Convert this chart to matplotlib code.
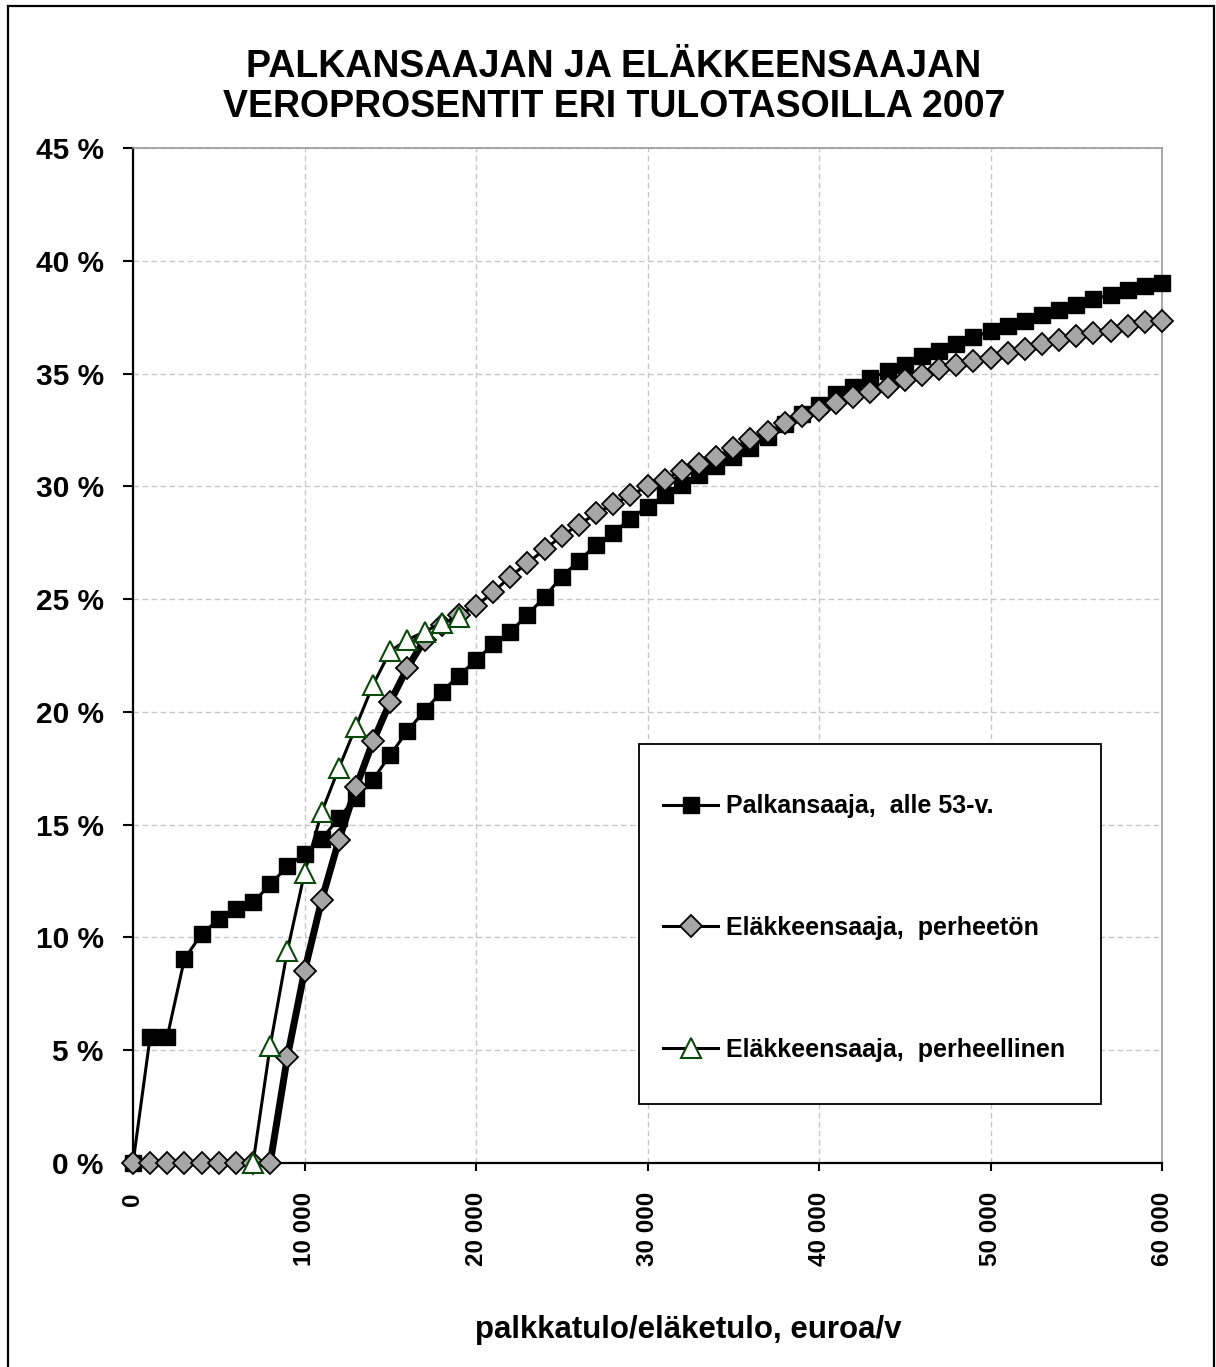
import numpy as np
import matplotlib
matplotlib.use("Agg")
import matplotlib.pyplot as plt
from matplotlib.patches import Rectangle
from matplotlib.ticker import FuncFormatter, MultipleLocator

plt.rcParams['font.family'] = ['Liberation Sans', 'DejaVu Sans']
plt.rcParams['font.weight'] = 'bold'

# income, euro/year
income = np.arange(0, 61000, 1000)
income_fam = np.arange(7000, 20000, 1000)

# tax rate, %
palkansaaja = [0, 5.6, 5.6, 9.05, 10.15, 10.8, 11.25, 11.55, 12.35, 13.15,
               13.7, 14.35, 15.3, 16.2, 17.0, 18.1, 19.15, 20.05, 20.9, 21.6,
               22.3, 23.0, 23.55, 24.3, 25.1, 26.0, 26.7, 27.4, 27.95, 28.55,
               29.1, 29.6, 30.05, 30.5, 30.9, 31.3, 31.7, 32.2, 32.75, 33.2,
               33.6, 34.1, 34.4, 34.8, 35.1, 35.4, 35.8, 36.0, 36.3, 36.6,
               36.9, 37.1, 37.35, 37.6, 37.8, 38.05, 38.3, 38.5, 38.7, 38.9,
               39.0]
perheeton = [0, 0, 0, 0, 0, 0, 0, 0, 0, 4.7,
             8.5, 11.65, 14.3, 16.65, 18.7, 20.45, 21.95, 23.2, 23.85, 24.3,
             24.7, 25.3, 26.0, 26.6, 27.2, 27.8, 28.3, 28.8, 29.2, 29.6,
             30.0, 30.3, 30.7, 31.0, 31.3, 31.7, 32.1, 32.4, 32.8, 33.1,
             33.4, 33.7, 33.95, 34.2, 34.4, 34.7, 34.95, 35.2, 35.4, 35.55,
             35.7, 35.9, 36.1, 36.3, 36.5, 36.65, 36.8, 36.9, 37.1, 37.3,
             37.35]
perheellinen = [0, 5.2, 9.4, 12.85, 15.55, 17.5, 19.35, 21.2, 22.7, 23.2,
                23.55, 23.95, 24.2]

labels = ['Palkansaaja,  alle 53-v.',
          'Eläkkeensaaja,  perheetön',
          'Eläkkeensaaja,  perheellinen']

fig = plt.figure(figsize=(12.16, 13.67), dpi=100)
ax = fig.add_axes([133/1216, 1 - 1163/1367, (1162 - 133)/1216, (1163 - 148)/1367])

ax.plot(income, palkansaaja, color='black', lw=2.2, marker='s', ms=11.5,
        mfc='black', mec='black', mew=1, label=labels[0], zorder=3, clip_on=False)
# thicker stretch of the pensioner line, as in the original
ax.plot(income[8:18], perheeton[8:18], color='black', lw=5, zorder=3.5)
ax.plot(income, perheeton, color='black', lw=2.2, marker='D', ms=11,
        mfc='#a6a6a6', mec='black', mew=1.3, label=labels[1], zorder=4, clip_on=False)
ax.plot(income_fam, perheellinen, color='black', lw=2.2, marker='^', ms=15,
        mfc='white', mec='#0b4a0b', mew=1.5, label=labels[2], zorder=5, clip_on=False)

ax.set_xlim(0, 60000)
ax.set_ylim(0, 45)
ax.xaxis.set_major_locator(MultipleLocator(10000))
ax.yaxis.set_major_locator(MultipleLocator(5))
ax.xaxis.set_major_formatter(FuncFormatter(lambda v, p: f"{int(v):,}".replace(",", " ")))
ax.yaxis.set_major_formatter(FuncFormatter(lambda v, p: f"{int(round(v))} %"))
ax.tick_params(axis='x', labelsize=17.5, length=6, width=1.5, pad=15, labelrotation=90)
ax.tick_params(axis='y', labelsize=21.5, length=7, width=1.5, pad=14)

ax.grid(True, color='#c8c8c8', lw=1.0, linestyle=(0, (4, 2.5)), zorder=0)
ax.set_axisbelow(True)
ax.spines['left'].set_linewidth(1.6)
ax.spines['bottom'].set_linewidth(1.6)
for s in ['top', 'right']:
    ax.spines[s].set_color('#999999')
    ax.spines[s].set_linewidth(1.2)

# legend box
ax.add_patch(Rectangle((639/1216, 1 - 1104/1367), 462/1216, 360/1367,
                       transform=fig.transFigure, facecolor='white', edgecolor='black',
                       lw=1.3, zorder=5.5, clip_on=False))
leg = ax.legend(loc='center left', bbox_to_anchor=(663/1216, 1 - 928/1367),
                bbox_transform=fig.transFigure, borderaxespad=0, borderpad=0,
                prop={'size': 18, 'weight': 'bold'}, frameon=False,
                handlelength=2.2, handletextpad=0.3, labelspacing=3.9)
leg.set_zorder(6)

fig.text(614/1216, 1 - 87/1367,
         'PALKANSAAJAN JA ELÄKKEENSAAJAN\nVEROPROSENTIT ERI TULOTASOILLA 2007',
         ha='center', va='center', fontsize=27, fontweight='bold', linespacing=1.15)
fig.text(688/1216, 1 - 1330/1367, 'palkkatulo/eläketulo, euroa/v',
         ha='center', va='center', fontsize=22.5, fontweight='bold')

fig.patches.append(Rectangle((8/1216, -0.01), (1214 - 8)/1216, 1 - 6/1367 + 0.01,
                             transform=fig.transFigure, fill=False, edgecolor='black',
                             lw=1.6, zorder=0))

fig.savefig('out.png', dpi=100)
